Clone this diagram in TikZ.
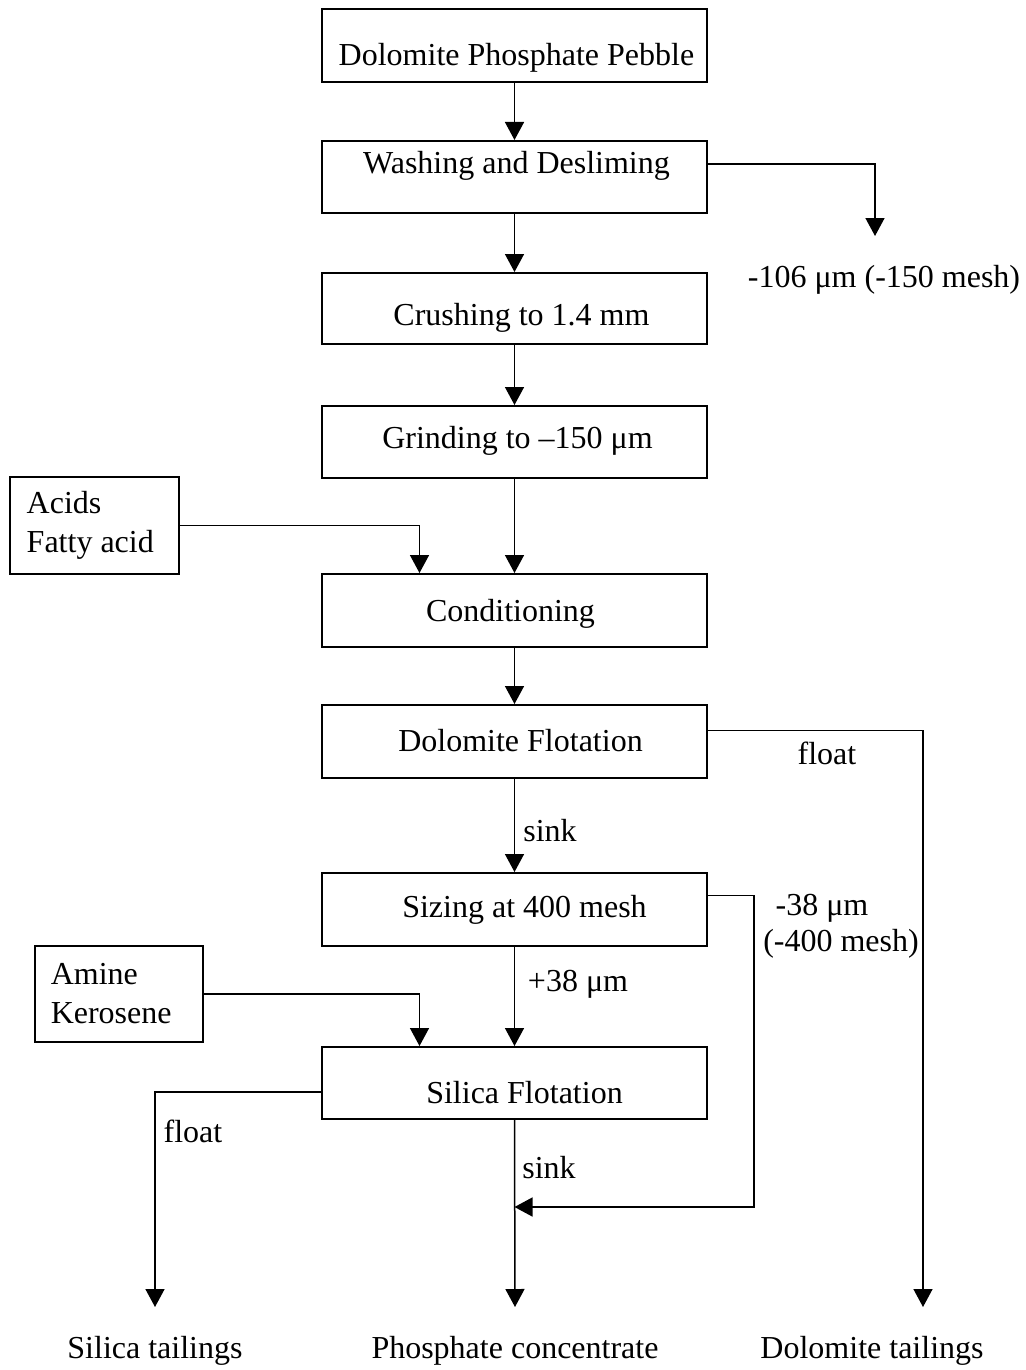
\documentclass[tikz,border=0pt]{standalone}
\usepackage{fontspec}
\setmainfont{Liberation Serif}
\usetikzlibrary{arrows.meta}

\begin{document}
\begin{tikzpicture}[x=1pt, y=-1pt,
    ->, >={Triangle[length=18pt,width=19pt]}, line width=1.5pt,
    stage/.style={rectangle, draw, line width=2pt,
                  minimum width=385pt, minimum height=72pt},
    reagent/.style={rectangle, draw, line width=2pt},
    txt/.style={font=\fontsize{32}{38}\selectfont, inner sep=0pt}]

    \useasboundingbox (0,0) rectangle (1025,1370);

    % main stages
    \node[stage, minimum height=73pt] (pebble) at (514.5,46) {};
    \node[txt] at ([shift={(2pt,-12pt)}]pebble.center) {Dolomite Phosphate Pebble};

    \node[stage] (wash) at (514.5,177) {};
    \node[txt] at ([shift={(2pt,11pt)}]wash.center) {Washing and Desliming};

    \node[stage, minimum height=71pt] (crush) at (514.5,308.5) {};
    \node[txt] at ([shift={(7pt,-9pt)}]crush.center) {Crushing to 1.4 mm};

    \node[stage] (grind) at (514.5,442) {};
    \node[txt] at ([shift={(3pt,1pt)}]grind.center) {Grinding to –150 μm};

    \node[stage, minimum height=73pt] (cond) at (514.5,610.5) {};
    \node[txt] at ([shift={(-4pt,-3pt)}]cond.center) {Conditioning};

    \node[stage, minimum height=73pt] (dflot) at (514.5,741.5) {};
    \node[txt] at ([shift={(6pt,1pt)}]dflot.center) {Dolomite Flotation};

    \node[stage, minimum height=73pt] (sizing) at (514.5,909.5) {};
    \node[txt] at ([shift={(10pt,0pt)}]sizing.center) {Sizing at 400 mesh};

    \node[stage] (sflot) at (514.5,1083) {};
    \node[txt] at ([shift={(10pt,-10pt)}]sflot.center) {Silica Flotation};

    % reagents
    \node[reagent, minimum width=169pt, minimum height=97pt] (acids) at (94.5,525.5) {};
    \node[txt, anchor=west, align=left] at ([xshift=17pt]acids.west) {Acids\\[1pt]Fatty acid};

    \node[reagent, minimum width=168pt, minimum height=96pt] (amine) at (119,994) {};
    \node[txt, anchor=west, align=left] at ([xshift=16pt]amine.west) {Amine\\[1pt]Kerosene};

    % products and side streams
    \node[txt] (slime) at (884,280) {-106 μm (-150 mesh)};
    \node[txt] (siltail) at (155,1351) {Silica tailings};
    \node[txt] (conc) at (515,1351) {Phosphate concentrate};
    \node[txt] (doltail) at (872,1351) {Dolomite tailings};

    \coordinate (slimeend) at (875,236);
    \coordinate (dolend) at (923,1307);
    \coordinate (silend) at (155,1307);
    \coordinate (concend) at (515,1307);
    \coordinate (fines) at (754,1207);

    % labels on streams
    \node[txt] (dfloat) at (827,753) {float};
    \node[txt] (dsink) at (550,831) {sink};
    \node[txt] (fines38) at (822,908) {-38 μm};
    \node[txt] (fines400) at (841,944) {(-400 mesh)};
    \node[txt] (coarse38) at (578,984) {+38 μm};
    \node[txt] (sfloat) at (193,1131) {float};
    \node[txt] (ssink) at (549,1168) {sink};

    % flow lines
    \draw (pebble.south) -- (wash.north);
    \draw (wash.south) -- (crush.north);
    \draw (crush.south) -- (grind.north);
    \draw (grind.south) -- (cond.north);
    \draw (cond.south) -- (dflot.north);
    \draw (dflot.south) -- (sizing.north);
    \draw (sizing.south) -- (sflot.north);
    \draw (sflot.south) -- (concend);

    \draw ([yshift=13pt]wash.east) -| (slimeend);
    \draw (acids) -| ([xshift=-95pt]cond.north);
    \draw (amine) -| ([xshift=-95pt]sflot.north);
    \draw ([yshift=11pt]dflot.east) -| (dolend);
    \draw ([yshift=14pt]sizing.east) -| (fines) -- (sflot.south |- fines);
    \draw ([yshift=-9pt]sflot.west) -| (silend);

\end{tikzpicture}
\end{document}
